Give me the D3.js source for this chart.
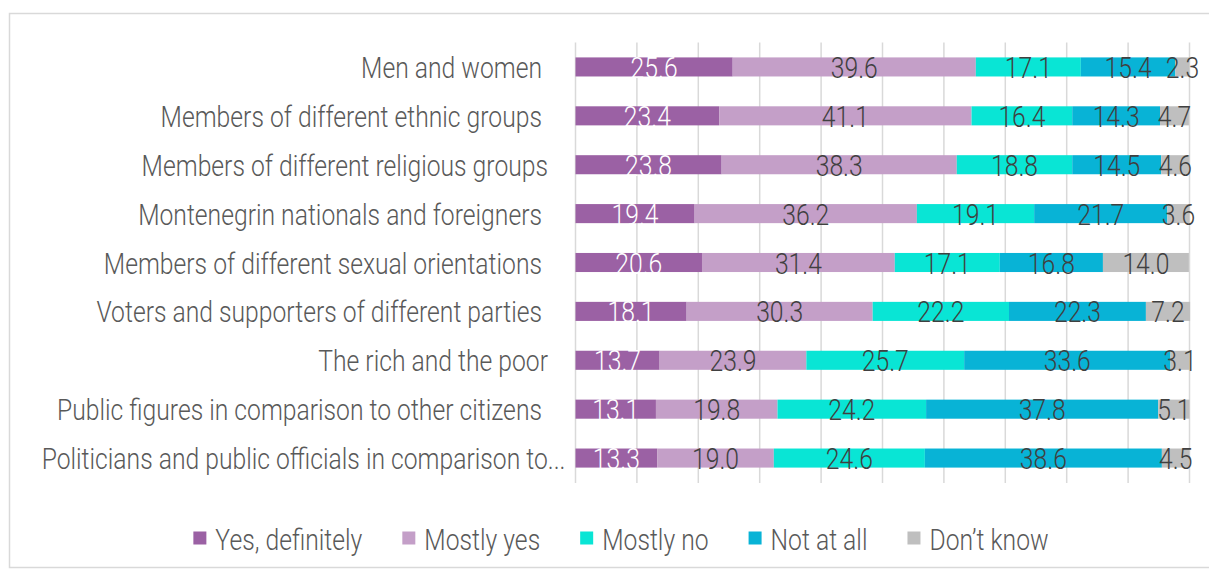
<!DOCTYPE html>
<html>
<head>
<meta charset="utf-8">
<script src="https://cdn.jsdelivr.net/npm/d3@7"></script>
<style>
  html, body { margin: 0; padding: 0; background: #fff; }
  svg { display: block; }
  text { white-space: pre; }
</style>
</head>
<body>
<svg id="chart" width="1209" height="572"></svg>
<script>
const categories = [
  "Men and women ",
  "Members of different ethnic groups ",
  "Members of different religious groups",
  "Montenegrin nationals and foreigners ",
  "Members of different sexual orientations ",
  "Voters and supporters of different parties ",
  "The rich and the poor",
  "Public figures in comparison to other citizens ",
  "Politicians and public officials in comparison to..."
];
const seriesNames = ["Yes, definitely", "Mostly yes", "Mostly no", "Not at all", "Don\u2019t know"];
const yesDefinitely = [25.6, 23.4, 23.8, 19.4, 20.6, 18.1, 13.7, 13.1, 13.3];
const mostlyYes     = [39.6, 41.1, 38.3, 36.2, 31.4, 30.3, 23.9, 19.8, 19.0];
const mostlyNo      = [17.1, 16.4, 18.8, 19.1, 17.1, 22.2, 25.7, 24.2, 24.6];
const notAtAll      = [15.4, 14.3, 14.5, 21.7, 16.8, 22.3, 33.6, 37.8, 38.6];
const dontKnow      = [2.3, 4.7, 4.6, 3.6, 14.0, 7.2, 3.1, 5.1, 4.5];
const xTicks = [0, 10, 20, 30, 40, 50, 60, 70, 80, 90, 100];

const seriesValues = [yesDefinitely, mostlyYes, mostlyNo, notAtAll, dontKnow];
const colors = ["#9b61a4", "#c49fc8", "#09e5d5", "#08b3d6", "#bfbfbf"];
const labelColors = ["#ffffff", "#404040", "#404040", "#404040", "#404040"];

const FONT = "Roboto, 'Open Sans', sans-serif";
const FS = 30;
const FW = 300;
const BASE = FS * 0.37;

const svg = d3.select("#chart");

// frame
svg.append("rect")
  .attr("x", 9.5).attr("y", 13.5).attr("width", 1220).attr("height", 554)
  .attr("fill", "#fff").attr("stroke", "#d9d9d9").attr("stroke-width", 1.5);

// measure condensed factor
const probe = svg.append("text").attr("font-family", FONT).attr("font-size", FS)
  .attr("font-weight", FW).text("Men and women");
const probeW = probe.node().getComputedTextLength();
probe.remove();
const SX = 181 / probeW;

const x = d3.scaleLinear().domain([0, 100]).range([575.5, 1189.5]);
const y = d3.scaleBand().domain(categories).range([42.5, 482.5])
  .paddingInner(0.61).paddingOuter(0.305);

// gridlines
svg.append("g").selectAll("line").data(xTicks).join("line")
  .attr("x1", d => x(d)).attr("x2", d => x(d))
  .attr("y1", 42.5).attr("y2", 483)
  .attr("stroke", "#d9d9d9").attr("stroke-width", 1.5);

// stack
const rows = categories.map((c, i) => {
  const o = { cat: c };
  seriesNames.forEach((s, j) => o[s] = seriesValues[j][i]);
  return o;
});
const stacked = d3.stack().keys(seriesNames)(rows);

const gS = svg.append("g").selectAll("g").data(stacked).join("g")
  .attr("fill", (d, i) => colors[i]);
gS.selectAll("rect").data(d => d).join("rect")
  .attr("x", d => x(d[0]))
  .attr("width", d => x(d[1]) - x(d[0]))
  .attr("y", d => y(d.data.cat))
  .attr("height", y.bandwidth());

// data labels
stacked.forEach((layer, si) => {
  svg.append("g").selectAll("g").data(layer).join("g")
    .attr("transform", d => `translate(${(x(d[0]) + x(d[1])) / 2},${y(d.data.cat) + y.bandwidth() / 2 + BASE}) scale(${SX},1)`)
    .append("text")
    .attr("text-anchor", "middle")
    .attr("font-family", FONT).attr("font-size", FS).attr("font-weight", FW)
    .attr("fill", labelColors[si])
    .text(d => d3.format(".1f")(d[1] - d[0]));
});

// category labels
svg.append("g").selectAll("g").data(categories).join("g")
  .attr("transform", d => {
    const xe = d.endsWith("...") ? x(0) - 10 : x(0) - 27.5;
    return `translate(${xe},${y(d) + y.bandwidth() / 2 + BASE}) scale(${SX},1)`;
  })
  .append("text")
  .attr("text-anchor", "end")
  .attr("font-family", FONT).attr("font-size", FS).attr("font-weight", FW)
  .attr("fill", "#595959")
  .text(d => d);

// legend
const legY = 539;
const sq = 13, gap1 = 9, gap2 = 40;
const tmp = svg.append("g");
const widths = seriesNames.map(s => {
  const t = tmp.append("text").attr("font-family", FONT).attr("font-size", FS)
    .attr("font-weight", FW).text(s);
  return t.node().getComputedTextLength() * SX;
});
tmp.remove();
const total = d3.sum(widths) + seriesNames.length * (sq + gap1) + (seriesNames.length - 1) * gap2;
let lx = 621 - total / 2;
const leg = svg.append("g");
seriesNames.forEach((s, i) => {
  leg.append("rect").attr("x", lx).attr("y", legY - sq / 2 - 1).attr("width", sq).attr("height", sq)
    .attr("fill", colors[i]);
  leg.append("g")
    .attr("transform", `translate(${lx + sq + gap1},${legY + BASE}) scale(${SX},1)`)
    .append("text")
    .attr("font-family", FONT).attr("font-size", FS).attr("font-weight", FW)
    .attr("fill", "#595959").text(s);
  lx += sq + gap1 + widths[i] + gap2;
});
</script>
</body>
</html>
